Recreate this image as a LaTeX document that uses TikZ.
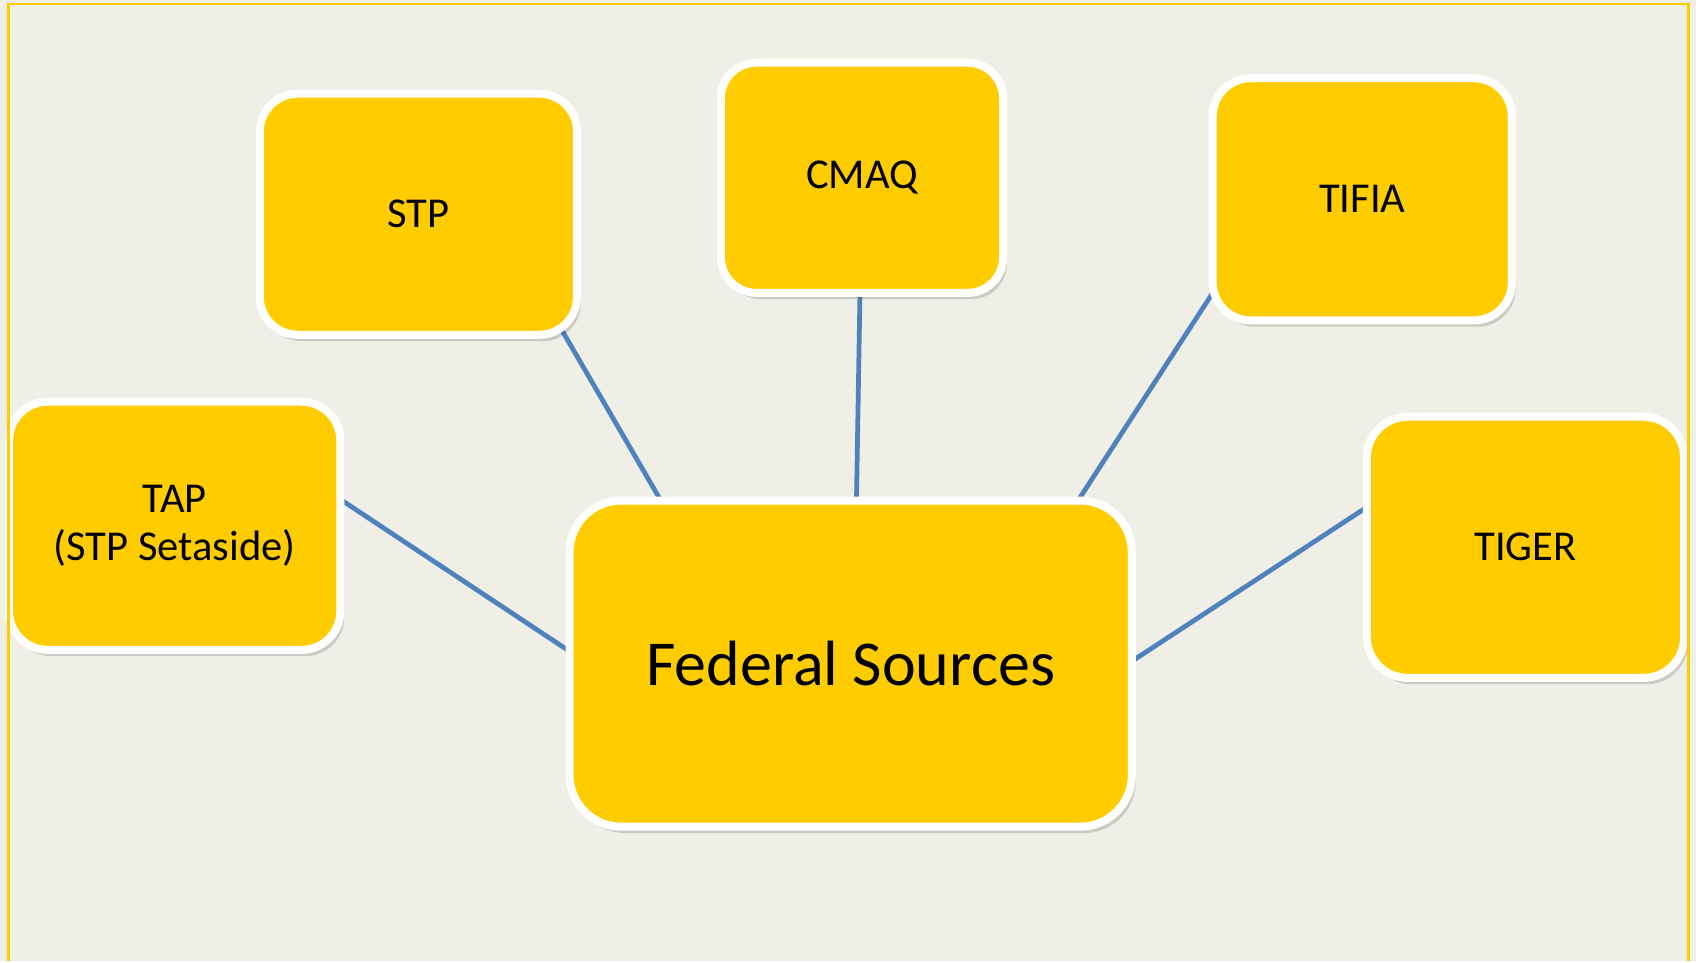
\documentclass[tikz,border=0pt]{standalone}
\usepackage{fontspec}
\setmainfont{Carlito}
\usepackage{tikz}
\usetikzlibrary{shapes,shadows,positioning}
\definecolor{paper}{RGB}{240,239,231}
\definecolor{gold}{RGB}{255,204,0}
\definecolor{spoke}{RGB}{79,129,189}
\pgfdeclarelayer{paper}
\pgfdeclarelayer{links}
\pgfsetlayers{paper,links,main}
\tikzstyle{fundbox} = [draw=white, fill=gold, line width=2.28pt,
    rectangle, rounded corners=10.8pt, inner sep=0pt, align=center,
    font=\fontsize{12.1}{13.6}\selectfont,
    drop shadow={shadow xshift=1.1pt, shadow yshift=-1.8pt,
      opacity=0.22, fill=black!70}]
\tikzstyle{spokeline} = [draw=spoke, line width=1.35pt,
    shorten <=-6pt, shorten >=-6pt]

\begin{document}
\begin{tikzpicture}[x=0.01cm, y=-0.01cm]

\begin{pgfonlayer}{paper}
\useasboundingbox (0,0) rectangle (1696,961);
\fill[paper] (0,0) rectangle (1696,961);
\end{pgfonlayer}

\node [fundbox, minimum width=5.62cm, minimum height=3.26cm,
    rounded corners=14.7pt, font=\fontsize{18.2}{21}\selectfont]
    (fed) at (850.7,663.6) {Federal Sources};

\node [fundbox, minimum width=3.17cm, minimum height=2.41cm]
    (stp) at (418.4,214.2) {STP};
\node [fundbox, minimum width=2.82cm, minimum height=2.30cm, rounded corners=10.1pt]
    (cmaq) at (862,177.8) {CMAQ};
\node [fundbox, minimum width=2.99cm, minimum height=2.42cm]
    (tifia) at (1362.3,199.3) {TIFIA};
\node [fundbox, minimum width=3.17cm, minimum height=2.61cm, rounded corners=11.6pt]
    (tiger) at (1525.5,547.3) {TIGER};
\node [fundbox, minimum width=3.31cm, minimum height=2.48cm, rounded corners=11pt]
    (tap) at (174.7,525.8) {TAP\\(STP Setaside)};

% spokes sit behind the boxes
\begin{pgfonlayer}{links}
\draw [spokeline] (fed.139.8) -- (stp.-40.6);
\draw [spokeline] (fed.88.3) -- (cmaq.-91.5);
\draw [spokeline] (fed.36.0) -- (tifia.213.2);
\draw [spokeline] (fed.177.35) -- (tap.8.06);
\draw [spokeline] (fed.1.59) -- (tiger.167.55);
\end{pgfonlayer}

% slide frame
\draw [gold, line width=0.7pt] (8.5,961) -- (8.5,4) -- (1688.5,4) -- (1688.5,961);

\end{tikzpicture}
\end{document}
